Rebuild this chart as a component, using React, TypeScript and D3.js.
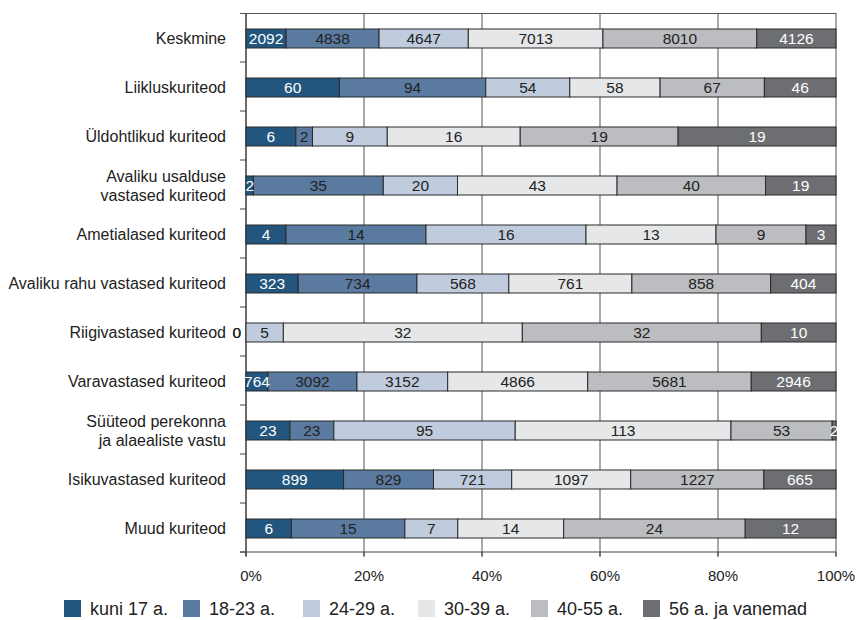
import React from "react";
import * as d3 from "d3";

const categories = [
  "Keskmine",
  "Liikluskuriteod",
  "Üldohtlikud kuriteod",
  "Avaliku usalduse\nvastased kuriteod",
  "Ametialased kuriteod",
  "Avaliku rahu vastased kuriteod",
  "Riigivastased kuriteod",
  "Varavastased kuriteod",
  "Süüteod perekonna\nja alaealiste vastu",
  "Isikuvastased kuriteod",
  "Muud kuriteod",
];

const seriesNames = ["kuni 17 a.", "18-23 a.", "24-29 a.", "30-39 a.", "40-55 a.", "56 a. ja vanemad"];

const kuni17 = [2092, 60, 6, 2, 4, 323, 0, 764, 23, 899, 6];
const a18_23 = [4838, 94, 2, 35, 14, 734, 0, 3092, 23, 829, 15];
const a24_29 = [4647, 54, 9, 20, 16, 568, 5, 3152, 95, 721, 7];
const a30_39 = [7013, 58, 16, 43, 13, 761, 32, 4866, 113, 1097, 14];
const a40_55 = [8010, 67, 19, 40, 9, 858, 32, 5681, 53, 1227, 24];
const a56 = [4126, 46, 19, 19, 3, 404, 10, 2946, 2, 665, 12];

const seriesValues = [kuni17, a18_23, a24_29, a30_39, a40_55, a56];
const xTicks = [0, 0.2, 0.4, 0.6, 0.8, 1];

const colors = ["#23567e", "#5a7aa0", "#c0ccde", "#e6e7e9", "#bcbdc0", "#6d6e71"];
const labelColors = ["#ffffff", "#222222", "#222222", "#222222", "#222222", "#ffffff"];
const legendX = [64, 183, 303, 418, 531, 643];

const FONT = "'Liberation Sans', Arial, Helvetica, sans-serif";

export default function App() {
  const x = d3.scaleLinear().domain([0, 1]).range([246, 836]);
  const y = d3.scaleBand<string>().domain(categories).range([13, 552]).padding(0);
  const bw = y.bandwidth();
  const barH = 19;

  const rows = categories.map((c, i) => {
    const vals = seriesValues.map((s) => s[i]);
    const total = d3.sum(vals);
    let acc = 0;
    const segs = vals.map((v, k) => {
      const x0 = acc / total;
      acc += v;
      return { v, k, x0, x1: acc / total };
    });
    return { c, segs };
  });

  return (
    <svg
      width={859}
      height={620}
      style={{ position: "absolute", left: 0, top: 0, fontFamily: FONT }}
    >
      <rect x={0} y={0} width={859} height={620} fill="#ffffff" />
      {xTicks.map((t) => (
        <line key={t} x1={x(t)} x2={x(t)} y1={13} y2={556} stroke="#555" strokeWidth={1} />
      ))}
      <line x1={240} x2={x(1)} y1={13.5} y2={13.5} stroke="#555" strokeWidth={1} />
      <line x1={240} x2={x(1)} y1={552} y2={552} stroke="#444" strokeWidth={1.2} />
      <line x1={x(0)} x2={x(0)} y1={13} y2={556} stroke="#444" strokeWidth={1.2} />
      {categories.map((c) => (
        <line key={c} x1={240} x2={246} y1={(y(c) as number) + bw} y2={(y(c) as number) + bw} stroke="#444" />
      ))}
      {rows.map((r) => {
        const cy = (y(r.c) as number) + bw / 2 + 1;
        return (
          <g key={r.c}>
            {r.segs.map((s) =>
              s.v > 0 ? (
                <rect
                  key={s.k}
                  x={x(s.x0)}
                  y={cy - barH / 2}
                  width={x(s.x1) - x(s.x0)}
                  height={barH}
                  fill={colors[s.k]}
                  stroke="#2a2a2a"
                  strokeWidth={1}
                />
              ) : null
            )}
            {r.segs.map((s) =>
              s.v > 0 ? (
                <text
                  key={"t" + s.k}
                  x={(x(s.x0) + x(s.x1)) / 2}
                  y={cy + 5.5}
                  textAnchor="middle"
                  fontSize={15.5}
                  fill={labelColors[s.k]}
                >
                  {s.v}
                </text>
              ) : (
                <text key={"t" + s.k} x={x(s.x0) - 5} y={cy + 5.5} textAnchor="end" fontSize={15.5} fill="#222">
                  {s.v}
                </text>
              )
            )}
            {r.c.split("\n").map((line, li, arr) => (
              <text
                key={"c" + li}
                x={226}
                y={cy + 5.5 + (li - (arr.length - 1) / 2) * 19}
                textAnchor="end"
                fontSize={16}
                fill="#222"
              >
                {line}
              </text>
            ))}
          </g>
        );
      })}
      {xTicks.map((t) => (
        <g key={"xt" + t}>
          <line x1={x(t)} x2={x(t)} y1={552} y2={557} stroke="#444" />
          <text x={x(t) + (t === 1 ? 0 : 5)} y={581} textAnchor="middle" fontSize={15} fill="#222">
            {d3.format(".0%")(t)}
          </text>
        </g>
      ))}
      {seriesNames.map((n, k) => (
        <g key={n}>
          <rect x={legendX[k]} y={600} width={17} height={17} fill={colors[k]} />
          <text x={legendX[k] + 26} y={615} fontSize={18} fill="#222">
            {n}
          </text>
        </g>
      ))}
    </svg>
  );
}
